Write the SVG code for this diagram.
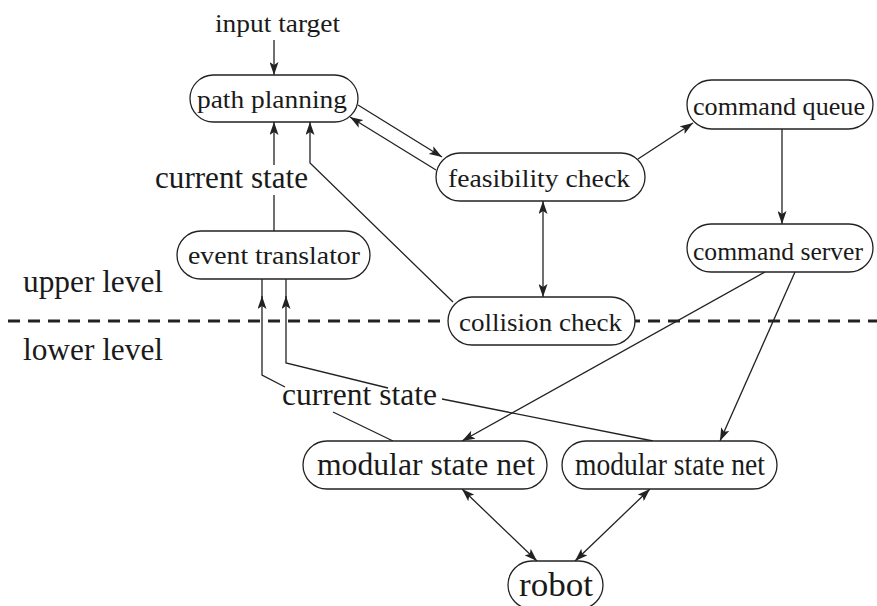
<svg xmlns="http://www.w3.org/2000/svg" width="877" height="606" viewBox="0 0 877 606">
<style>
text{font-family:'Liberation Serif','DejaVu Serif',serif;fill:#1a1a1a;text-anchor:middle}
.n rect{fill:#fff;stroke:#222;stroke-width:1.3}
.t26{font-size:26px}
.c line,.c path{fill:none;stroke:#222;stroke-width:1.3}
.dash{stroke:#222;stroke-width:3;stroke-dasharray:12 8;fill:none}
</style>
<defs>
<marker id="ah" markerUnits="userSpaceOnUse" viewBox="0 0 13 9" refX="13" refY="4.5" markerWidth="13" markerHeight="9" orient="auto-start-reverse">
<path d="M0,0 L13,4.5 L0,9 L3,4.5 z" fill="#222"/>
</marker>
</defs>
<line class="dash" x1="8" y1="321" x2="877" y2="321"/>
<g id="connectors" class="c">
<path d="M274,40 V75" marker-end="url(#ah)"/>
<path d="M358,105 L442,157" marker-end="url(#ah)"/>
<path d="M436,170 L350,117" marker-end="url(#ah)"/>
<path d="M638,159 L693,123" marker-end="url(#ah)"/>
<path d="M782,129 V224" marker-end="url(#ah)"/>
<path d="M543,201 V297" marker-start="url(#ah)" marker-end="url(#ah)"/>
<path d="M453,302 L310,163 V122" marker-end="url(#ah)"/>
<path d="M274,231 V195 M274,165 V122" marker-end="url(#ah)"/>
<path d="M393,441 L333,412 M285,387 L262,375 L262,296" marker-end="url(#ah)"/>
<path d="M262,298 V279"/>
<path d="M653,441 L442,399 M388,388 L286,363 L286,296" marker-end="url(#ah)"/>
<path d="M286,298 V279"/>
<path d="M765,272 L462,441" marker-end="url(#ah)"/>
<path d="M795,272 L720,441" marker-end="url(#ah)"/>
<path d="M462,489 L537,561" marker-start="url(#ah)" marker-end="url(#ah)"/>
<path d="M650,489 L575,561" marker-start="url(#ah)" marker-end="url(#ah)"/>
</g>
<g id="label-input"><text class="t26" x="277.5" y="32" textLength="125" lengthAdjust="spacingAndGlyphs">input target</text></g>
<g id="label-current-upper"><text x="231.5" y="188" font-size="31" textLength="153" lengthAdjust="spacingAndGlyphs">current state</text></g>
<g id="label-current-lower"><text x="359.5" y="405" font-size="31" textLength="155" lengthAdjust="spacingAndGlyphs">current state</text></g>
<g id="label-upper"><text x="93" y="292" font-size="31" textLength="140" lengthAdjust="spacingAndGlyphs">upper level</text></g>
<g id="label-lower"><text x="93" y="360" font-size="31" textLength="140" lengthAdjust="spacingAndGlyphs">lower level</text></g>
<g id="path-planning" class="n"><rect x="190" y="75" width="168" height="47" rx="23.5"/><text class="t26" x="272" y="108" textLength="150" lengthAdjust="spacingAndGlyphs">path planning</text></g>
<g id="feasibility-check" class="n"><rect x="436" y="153" width="209" height="48" rx="24"/><text class="t26" x="539" y="187" textLength="182" lengthAdjust="spacingAndGlyphs">feasibility check</text></g>
<g id="command-queue" class="n"><rect x="687" y="80" width="186" height="49" rx="24.5"/><text class="t26" x="779" y="115" textLength="172" lengthAdjust="spacingAndGlyphs">command queue</text></g>
<g id="command-server" class="n"><rect x="687" y="224" width="186" height="48" rx="24"/><text class="t26" x="778" y="260" textLength="170" lengthAdjust="spacingAndGlyphs">command server</text></g>
<g id="event-translator" class="n"><rect x="177" y="231" width="193" height="48" rx="24"/><text class="t26" x="274" y="264" textLength="172" lengthAdjust="spacingAndGlyphs">event translator</text></g>
<g id="collision-check" class="n"><rect x="448" y="297" width="187" height="48" rx="24"/><text class="t26" x="540.5" y="331" textLength="163" lengthAdjust="spacingAndGlyphs">collision check</text></g>
<g id="msn1" class="n"><rect x="303" y="441" width="244" height="48" rx="24"/><text x="426" y="475" font-size="31" textLength="218" lengthAdjust="spacingAndGlyphs">modular state net</text></g>
<g id="msn2" class="n"><rect x="562" y="441" width="215" height="48" rx="24"/><text x="670" y="475" font-size="31" textLength="190" lengthAdjust="spacingAndGlyphs">modular state net</text></g>
<g id="robot" class="n"><rect x="508" y="561" width="95" height="48" rx="24"/><text x="556" y="596" font-size="34" textLength="74" lengthAdjust="spacingAndGlyphs">robot</text></g>
</svg>
